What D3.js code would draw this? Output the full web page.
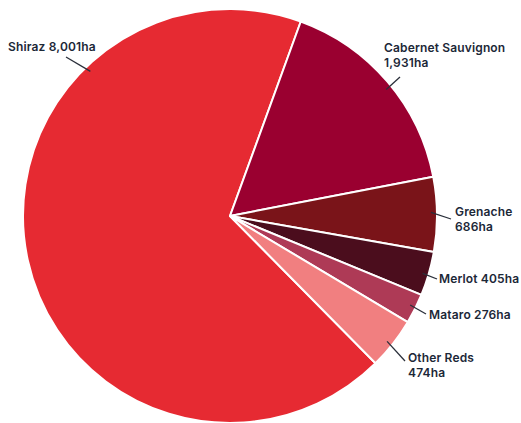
<!DOCTYPE html>
<html>
<head>
<meta charset="utf-8">
<script src="https://cdn.jsdelivr.net/npm/d3@7"></script>
<style>
  body { margin: 0; background: #fff; }
  svg text { font-family: Inter, "Noto Sans", sans-serif; font-weight: 600; font-size: 12px; letter-spacing: 0.15px; fill: #1c2838; }
</style>
</head>
<body>
<div id="chart"></div>
<script>
// Red grape varieties, hectares
var varieties = ["Shiraz", "Cabernet Sauvignon", "Grenache", "Merlot", "Mataro", "Other Reds"];
var hectares = [8001, 1931, 686, 405, 276, 474];
var labels = [["Shiraz 8,001ha"], ["Cabernet Sauvignon", "1,931ha"], ["Grenache", "686ha"],
              ["Merlot 405ha"], ["Mataro 276ha"], ["Other Reds", "474ha"]];
var colours = ["#e62a32", "#9a0030", "#7a1419", "#4b0d1d", "#ae3a56", "#f17f80"];

var width = 521, height = 423;
var cx = 230, cy = 216, radius = 207;

// label layout: angle where the leader starts (degrees from top), leader end, text position
var labelLayout = [
  { angle: 316, end: [66, 57], text: [8, 51] },
  { angle: 51, end: [400, 77], text: [384, 52] },
  { angle: 89, end: [451, 219], text: [455, 216] },
  { angle: 106.6, end: [437, 279], text: [439, 283] },
  { angle: 116.3, end: [426, 314], text: [429, 319] },
  { angle: 128.6, end: [405, 361], text: [408, 362] }
];

var svg = d3.select("#chart").append("svg")
  .attr("width", width)
  .attr("height", height);

var data = varieties.map(function (v, i) { return { name: v, value: hectares[i], i: i }; });

// first slice (Shiraz) placed so that Cabernet begins just right of top
var shirazShare = hectares[0] / d3.sum(hectares) * 2 * Math.PI;
var startAngle = 20 * Math.PI / 180 - shirazShare;

var pie = d3.pie()
  .sort(null)
  .value(function (d) { return d.value; })
  .startAngle(startAngle)
  .endAngle(startAngle + 2 * Math.PI);

var arc = d3.arc().innerRadius(0).outerRadius(radius);

var g = svg.append("g").attr("transform", "translate(" + cx + "," + cy + ")");

g.selectAll("path")
  .data(pie(data))
  .enter()
  .append("path")
  .attr("d", arc)
  .attr("fill", function (d) { return colours[d.data.i]; })
  .attr("stroke", "#fff")
  .attr("stroke-width", 2)
  .attr("stroke-linejoin", "round");

// leader lines
var lineR = radius - 6;
svg.selectAll("line.leader")
  .data(labelLayout)
  .enter()
  .append("line")
  .attr("class", "leader")
  .attr("x1", function (d) { return cx + lineR * Math.sin(d.angle * Math.PI / 180); })
  .attr("y1", function (d) { return cy - lineR * Math.cos(d.angle * Math.PI / 180); })
  .attr("x2", function (d) { return d.end[0]; })
  .attr("y2", function (d) { return d.end[1]; })
  .attr("stroke", "#2a2f3a")
  .attr("stroke-width", 1.3);

// labels
var txt = svg.selectAll("text.lbl")
  .data(labelLayout)
  .enter()
  .append("text")
  .attr("class", "lbl")
  .attr("x", function (d) { return d.text[0]; })
  .attr("y", function (d) { return d.text[1]; });

txt.each(function (d, i) {
  var t = d3.select(this);
  labels[i].forEach(function (line, j) {
    t.append("tspan")
      .attr("x", d.text[0])
      .attr("dy", j === 0 ? 0 : 15)
      .text(line);
  });
});
</script>
</body>
</html>
